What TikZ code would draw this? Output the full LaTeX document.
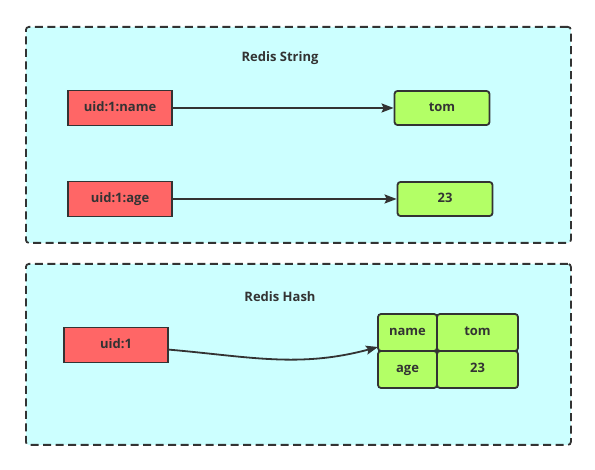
\documentclass[tikz,border=0pt]{standalone}
\usepackage{fontspec}
\setmainfont{Open Sans}
\usetikzlibrary{positioning, arrows.meta}

\definecolor{groupfill}{HTML}{CCFFFF}
\definecolor{keyfill}{HTML}{FF6666}
\definecolor{valfill}{HTML}{B3FF66}
\definecolor{ink}{HTML}{333333}

\begin{document}
\begin{tikzpicture}[x=1pt, y=-1pt,
  every node/.style={font=\fontsize{13}{15}\selectfont\bfseries, text=ink, text height=1.6ex, text depth=.3ex},
  group/.style={draw=ink, line width=1.8pt, dash pattern=on 8pt off 4.5pt, fill=groupfill,
    rounded corners=3pt, anchor=north west, minimum width=545pt},
  key/.style={draw=ink, line width=1.8pt, fill=keyfill, minimum width=104pt, minimum height=35pt},
  val/.style={draw=ink, line width=1.8pt, fill=valfill, rounded corners=3pt, minimum width=95pt, minimum height=34pt},
  cell/.style={draw=ink, line width=1.8pt, fill=valfill, rounded corners=3pt, outer sep=0pt, minimum height=37pt},
  link/.style={draw=ink, line width=1.8pt, -{Stealth[length=12pt, width=9pt, inset=2pt]}}]
\useasboundingbox (0,0) rectangle (595,470);

% string part
\node[group, minimum height=216pt] (strbox) at (25,26) {};
\node (strtitle) at (280,58) {Redis String};
\node[key] (uidname) at (120,108) {uid:1:name};
\node[key] (uidage) at (120,199) {uid:1:age};
\node[val] (tom) at (442,108) {tom};
\node[val] (age) at (445,199) {23};
\draw[link] (uidname) -- (tom);
\draw[link] (uidage) -- (age);

% hash part
\node[group, minimum height=181pt] (hashbox) at (25,263) {};
\node (hashtitle) at (280,298) {Redis Hash};
\node[key] (uid) at (116,345) {uid:1};
\node[cell, minimum width=59pt] (namecell) at (407.5,332.5) {name};
\node[cell, minimum width=81pt, right=0pt of namecell] (tomcell) {tom};
\node[cell, minimum width=59pt, below=0pt of namecell] (agecell) {age};
\node[cell, minimum width=81pt, right=0pt of agecell] (numcell) {23};
\draw[link] (uid) to[out=-5, in=195] ([yshift=4pt]namecell.south west);
\end{tikzpicture}
\end{document}
